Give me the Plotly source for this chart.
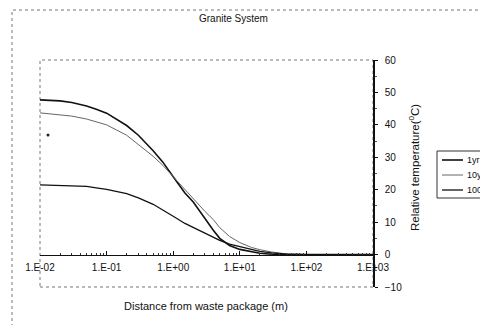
import plotly.graph_objects as go

distance_m = [0.01, 0.02, 0.03, 0.05, 0.07, 0.1, 0.2, 0.3, 0.5, 0.7, 1, 1.5, 2, 3, 4, 5, 7, 10,
              15, 20, 30, 50, 100, 200, 500, 1000]
temp_1yr = [47.7, 47.4, 46.9, 45.8, 44.8, 43.6, 39.8, 36.8, 32.0, 28.5, 24.0, 19.0, 16.2, 11.0,
            7.5, 5.0, 2.8, 1.6, 0.8, 0.4, 0.1, 0.0, 0.0, 0.0, 0.0, 0.0]
temp_10yr = [43.7, 43.2, 42.7, 41.8, 41.0, 40.0, 36.8, 34.0, 30.3, 27.5, 24.0, 19.8, 17.0, 13.3,
             10.8, 8.3, 5.6, 3.7, 2.2, 1.5, 0.8, 0.2, 0.0, 0.0, 0.0, 0.0]
temp_100yr = [21.5, 21.3, 21.2, 21.0, 20.6, 20.1, 18.8, 17.5, 15.5, 13.8, 11.8, 9.6, 8.3, 6.5,
              5.3, 4.4, 3.2, 2.4, 1.6, 1.0, 0.5, 0.1, 0.0, 0.0, 0.0, 0.0]
series_names = ["1yr", "10yr", "100yr"]
stray_x = [0.0132]
stray_y = [36.9]

x_tickvals = [0.01, 0.1, 1, 10, 100, 1000]
x_ticktext = ["1.E-02", "1.E-01", "1.E+00", "1.E+01", "1.E+02", "1.E+03"]
y_tickvals = [-10, 0, 10, 20, 30, 40, 50, 60]

FONT = "Liberation Sans, Arial, sans-serif"
styles = [dict(color="#111111", width=1.6), dict(color="#666666", width=1),
          dict(color="#111111", width=1.3)]

fig = go.Figure()
for name, vals, st in zip(series_names, [temp_1yr, temp_10yr, temp_100yr], styles):
    fig.add_trace(go.Scatter(x=distance_m, y=vals, mode="lines", name=name, line=st,
                             showlegend=False))
fig.add_trace(go.Scatter(x=stray_x, y=stray_y, mode="markers", showlegend=False,
                         marker=dict(color="#222222", size=3)))

# page body has an 8px margin, so the figure is drawn 8px in from the window edge
OFF = 8
W, H = 488 - OFF, 325 - OFF
L, T = 40 - OFF, 60 - OFF
R = W - (373 - OFF)
B = H - (287 - OFF)
pw = W - L - R
ph = H - T - B

def px_x(p):
    return (p - OFF - L) / pw

def px_y(p):
    return (T + ph - (p - OFF)) / ph

shapes = [
    dict(type="rect", xref="paper", yref="paper", x0=0, x1=1, y0=0, y1=1,
         line=dict(color="#777777", width=1, dash="dot"), layer="below"),
    dict(type="rect", xref="paper", yref="paper", x0=px_x(12), x1=px_x(500),
         y0=px_y(340), y1=px_y(10),
         line=dict(color="#777777", width=1, dash="dot"), layer="below"),
    # legend box
    dict(type="rect", xref="paper", yref="paper", x0=px_x(437), x1=px_x(500),
         y0=px_y(198), y1=px_y(151), line=dict(color="#333333", width=1),
         fillcolor="white"),
]
annotations = [
    dict(text="Granite System", xref="paper", yref="paper", x=px_x(233), y=px_y(19),
         showarrow=False, font=dict(size=10), xanchor="center", yanchor="middle"),
    dict(text="Distance from waste package (m)", xref="paper", yref="paper",
         x=px_x(206), y=px_y(306), showarrow=False, font=dict(size=11),
         xanchor="center", yanchor="middle"),
    dict(text="Relative temperature(<sup>0</sup>C)", xref="paper", yref="paper",
         x=px_x(414), y=px_y(168), showarrow=False, textangle=-90, font=dict(size=11.5),
         xanchor="center", yanchor="middle"),
]
leg_rows = [160, 175, 190]
for name, st, yy in zip(series_names, styles, leg_rows):
    shapes.append(dict(type="line", xref="paper", yref="paper", x0=px_x(442), x1=px_x(463),
                       y0=px_y(yy), y1=px_y(yy), line=st))
    annotations.append(dict(text=name, xref="paper", yref="paper", x=px_x(465), y=px_y(yy),
                            showarrow=False, font=dict(size=9), xanchor="left",
                            yanchor="middle"))

fig.update_layout(
    width=W, height=H,
    margin=dict(l=L, r=R, t=T, b=B, autoexpand=False),
    paper_bgcolor="white", plot_bgcolor="white",
    font=dict(family=FONT, size=10, color="#111111"),
    showlegend=False,
    xaxis=dict(type="log", range=[-2, 3], anchor="free", position=10 / 70,
               showline=True, linecolor="#111111", linewidth=1,
               tickvals=x_tickvals, ticktext=x_ticktext, ticks="inside", ticklen=4,
               tickcolor="#111111", showgrid=False, zeroline=False,
               tickfont=dict(size=10), ticklabelstandoff=3,
               minor=dict(ticks="inside", ticklen=2, tickcolor="#333333", dtick="D1",
                          showgrid=False)),
    yaxis=dict(range=[-10, 60], side="right", showline=True, linecolor="#111111",
               linewidth=1.5, tickvals=y_tickvals, ticks="outside", ticklen=3,
               tickcolor="#111111", showgrid=False, zeroline=False, tickfont=dict(size=10),
               ticklabelstandoff=5,
               minor=dict(ticks="outside", ticklen=2, dtick=5, tickcolor="#555555")),
    shapes=shapes,
    annotations=annotations,
)

fig.write_html("out.html")
